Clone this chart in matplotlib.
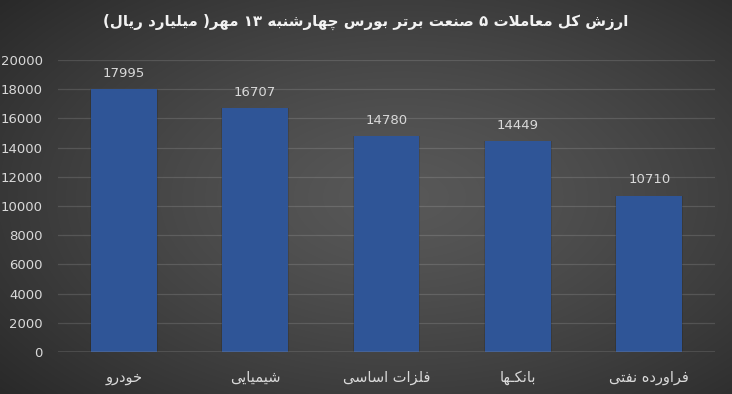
import unicodedata
import numpy as np
import matplotlib
matplotlib.use('Agg')
import matplotlib.pyplot as plt

categories = ['خودرو', 'شیمیایی', 'فلزات اساسی', 'بانکـها', 'فراورده نفتی']
values = [17995, 16707, 14780, 14449, 10710]
title = 'ارزش کل معاملات ۵ صنعت برتر بورس چهارشنبه ۱۳ مهر( میلیارد ریال)'
yticks = list(range(0, 20001, 2000))

# ── minimal persian shaping (matplotlib has no bidi / contextual forms) ──────
RIGHT_JOIN = set('اآأإدذرزژوؤة')
TATWEEL = '\u0640'


def _is_letter(c):
    return ('\u0621' <= c <= '\u06ff') and not ('\u06f0' <= c <= '\u06f9') \
        and not ('\u0660' <= c <= '\u0669')


def _dual(c):
    return c == TATWEEL or (_is_letter(c) and c not in RIGHT_JOIN)


def _form(c, name):
    if c == TATWEEL:
        return c
    try:
        return unicodedata.lookup(unicodedata.name(c) + ' ' + name + ' FORM')
    except KeyError:
        return c


def shape(s):
    out = []
    i = 0
    while i < len(s):
        c = s[i]
        prev = s[i - 1] if i > 0 else ''
        joins_prev = bool(prev) and _dual(prev) and _is_letter(c)
        if c == 'ل' and i + 1 < len(s) and s[i + 1] == 'ا':
            kind = 'FINAL' if joins_prev else 'ISOLATED'
            out.append(unicodedata.lookup('ARABIC LIGATURE LAM WITH ALEF ' + kind + ' FORM'))
            i += 2
            continue
        nxt = s[i + 1] if i + 1 < len(s) else ''
        joins_next = _dual(c) and bool(nxt) and _is_letter(nxt)
        if not _is_letter(c):
            out.append(c)
        elif joins_prev and joins_next:
            out.append(_form(c, 'MEDIAL'))
        elif joins_prev:
            out.append(_form(c, 'FINAL'))
        elif joins_next:
            out.append(_form(c, 'INITIAL'))
        else:
            out.append(_form(c, 'ISOLATED'))
        i += 1
    # visual order: reverse, keep digit runs LTR, mirror brackets
    rev = ''.join(out)[::-1]
    res, run = [], ''
    for ch in rev:
        if ch.isdigit():
            run += ch
        else:
            if run:
                res.append(run[::-1])
                run = ''
            res.append({'(': ')', ')': '('}.get(ch, ch))
    if run:
        res.append(run[::-1])
    return ''.join(res)


plt.rcParams.update({'font.family': ['DejaVu Sans'], 'font.size': 9})

fig = plt.figure(figsize=(7.32, 3.94), dpi=100)

# radial gradient background
bg = fig.add_axes([0, 0, 1, 1], zorder=-10)
yy, xx = np.mgrid[-1:1:200j, -1:1:370j]
r = np.sqrt(((xx - 0.1) * 0.85) ** 2 + ((yy - 0.0) * 0.8) ** 2)
shade = np.clip(0.345 - 0.14 * r ** 1.3, 0.15, 0.345)
bg.imshow(np.dstack([shade] * 3), aspect='auto', extent=[0, 1, 0, 1],
          interpolation='bilinear')
bg.axis('off')

ax = fig.add_axes([58 / 732, 42 / 394, 657 / 732, 292 / 394])
ax.patch.set_alpha(0)
x = np.arange(len(categories))
# soft shadow behind bars
ax.bar(x, values, width=0.515, color='black', alpha=0.12, zorder=2)
ax.bar(x, values, width=0.5, color='#2f5597', zorder=3)
for xi, v in zip(x, values):
    ax.text(xi, v + 650, str(v), ha='center', va='bottom', color='#d9d9d9', fontsize=9.5)

ax.set_xlim(-0.5, len(categories) - 0.5)
ax.set_ylim(0, 20000)
ax.set_yticks(yticks)
ax.set_xticks(x)
ax.set_xticklabels([shape(c) for c in categories], color='#d9d9d9', fontsize=10.5)
ax.tick_params(axis='y', length=0, pad=11, colors='#d9d9d9', labelsize=9.5)
ax.tick_params(axis='x', length=0, pad=13)
ax.grid(axis='y', color='white', alpha=0.13, lw=0.9, zorder=0)
ax.axhline(0, color='#a0a0a0', lw=1.0, zorder=4)
for s in ax.spines.values():
    s.set_visible(False)

fig.text(0.5, 1 - 22 / 394, shape(title), ha='center', va='center',
         color='#f2f2f2', fontsize=10.8, fontweight='bold')

fig.savefig('out.png', dpi=100)
